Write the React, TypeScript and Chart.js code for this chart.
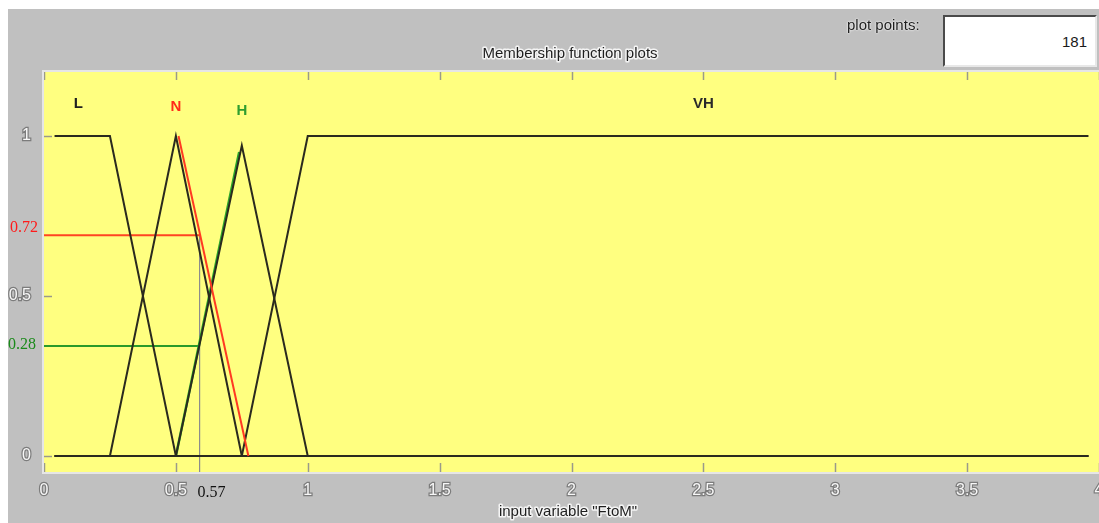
import React, { useEffect, useRef } from "react";
import { Chart, registerables } from "chart.js";

Chart.register(...registerables);

// ---- data ----
const xTicks = [0, 0.5, 1, 1.5, 2, 2.5, 3, 3.5, 4];
const yTicks = [0, 0.5, 1];

const mfNames = ["L", "N", "H", "VH"];
const mfLabelX = [0.13, 0.5, 0.75, 2.5];
const mfLabelY = [1.1, 1.09, 1.08, 1.1];
const mfLabelColors = ["#202020", "#ff2a1a", "#2f9e2f", "#2a2a2a"];

const L_X = [0.04, 0.25, 0.5, 3.96];
const L_Y = [1, 1, 0, 0];
const N_X = [0.04, 0.25, 0.5, 0.75, 3.96];
const N_Y = [0, 0, 1, 0, 0];
const H_X = [0.04, 0.5, 0.75, 1, 3.96];
const H_Y = [0, 0, 0.97, 0, 0];
const VH_X = [0.04, 0.75, 1, 3.96];
const VH_Y = [0, 0, 1, 1];

// highlighted slopes
const redSlopeX = [0.51, 0.775];
const redSlopeY = [1, 0];
const greenSlopeX = [0.5, 0.74];
const greenSlopeY = [0, 0.95];

// cut lines (as drawn) and their printed labels
const cutX = 0.59;
const redCutY = 0.69;
const greenCutY = 0.344;
const redCutLabel = "0.72";
const greenCutLabel = "0.28";
const inputLabel = "0.57";

const titleText = "Membership function plots";
const xAxisTitle = 'input variable "FtoM"';
const plotPointsLabel = "plot points:";
const plotPointsValue = "181";

const SANS = '"Liberation Sans", Arial, sans-serif';
const SERIF = '"Liberation Serif", "Times New Roman", serif';

const pts = (xs: number[], ys: number[]) => xs.map((x, i) => ({ x, y: ys[i] }));

function haloText(
  ctx: CanvasRenderingContext2D,
  text: string,
  x: number,
  y: number,
  fill: string,
  stroke: string | null,
  strokeWidth: number,
  font: string,
  align: CanvasTextAlign = "center"
) {
  ctx.save();
  ctx.font = font;
  ctx.textAlign = align;
  ctx.textBaseline = "middle";
  if (stroke) {
    ctx.strokeStyle = stroke;
    ctx.lineWidth = strokeWidth;
    ctx.lineJoin = "round";
    ctx.strokeText(text, x, y);
  }
  ctx.fillStyle = fill;
  ctx.fillText(text, x, y);
  ctx.restore();
}

const fuzzyPlugin = {
  id: "fuzzyDecor",
  beforeDraw(chart: any) {
    const { ctx, chartArea: a } = chart;
    ctx.save();
    ctx.fillStyle = "#ffff80";
    ctx.fillRect(a.left, a.top, a.right - a.left + 2, a.bottom - a.top);
    ctx.restore();
  },
  afterDatasetsDraw(chart: any) {
    const { ctx, chartArea: a } = chart;
    const xs = chart.scales.x;
    const ys = chart.scales.y;

    // inward tick marks
    ctx.save();
    ctx.strokeStyle = "#9a9a8a";
    ctx.lineWidth = 1.5;
    ctx.beginPath();
    xTicks.forEach((v) => {
      const px = Math.round(xs.getPixelForValue(v)) + 0.5;
      ctx.moveTo(px, a.bottom);
      ctx.lineTo(px, a.bottom - 9);
      ctx.moveTo(px, a.top);
      ctx.lineTo(px, a.top + 8);
    });
    yTicks.forEach((v) => {
      const py = Math.round(ys.getPixelForValue(v)) + 0.5;
      ctx.moveTo(a.left, py);
      ctx.lineTo(a.left + 8, py);
    });
    ctx.stroke();

    // axes box
    ctx.strokeStyle = "#e6e6e6";
    ctx.lineWidth = 2;
    ctx.strokeRect(a.left - 1, a.top - 1, a.right - a.left + 6, a.bottom - a.top + 2);
    ctx.restore();

    // MF labels
    mfNames.forEach((n, i) => {
      haloText(
        ctx,
        n,
        xs.getPixelForValue(mfLabelX[i]),
        ys.getPixelForValue(mfLabelY[i]),
        mfLabelColors[i],
        null,
        0,
        `bold 15px ${SANS}`
      );
    });

    // cut labels
    haloText(ctx, redCutLabel, a.left - 6, ys.getPixelForValue(redCutY) - 7, "#ff1a1a", null, 0, `16px ${SERIF}`, "right");
    haloText(ctx, greenCutLabel, a.left - 8, ys.getPixelForValue(greenCutY) - 1, "#1a8a1a", null, 0, `16px ${SERIF}`, "right");
    haloText(ctx, inputLabel, xs.getPixelForValue(cutX) - 2, a.bottom + 21, "#111111", null, 0, `16px ${SERIF}`, "left");

    // titles
    haloText(ctx, titleText, 562, 45, "#1e1e1e", "#f4f4f4", 3, `15px ${SANS}`);
    haloText(ctx, xAxisTitle, 560, 503, "#1e1e1e", "#f4f4f4", 3, `15px ${SANS}`);
  },
};

export default function App() {
  const ref = useRef<HTMLCanvasElement | null>(null);

  useEffect(() => {
    if (!ref.current) return;
    const black = "#2a2a1e";
    const line = (data: any[], color: string, width: number, order: number) => ({
      data,
      showLine: true,
      borderColor: color,
      backgroundColor: color,
      borderWidth: width,
      pointRadius: 0,
      fill: false,
      tension: 0,
      order,
    });

    const chart = new Chart(ref.current, {
      type: "scatter",
      data: {
        datasets: [
          line(pts(redSlopeX, redSlopeY), "#ff3a22", 2, 0),
          line(pts(L_X, L_Y), black, 2, 1),
          line(pts(N_X, N_Y), black, 2, 1),
          line(pts(H_X, H_Y), black, 2, 1),
          line(pts(VH_X, VH_Y), black, 2, 1),
          line(pts(greenSlopeX, greenSlopeY), "#2aa52a", 2.5, 2),
          line([{ x: 0, y: redCutY }, { x: cutX, y: redCutY }], "#ff4422", 2, 3),
          line([{ x: 0, y: greenCutY }, { x: cutX, y: greenCutY }], "#2a9a2a", 2, 3),
          line([{ x: cutX, y: redCutY }, { x: cutX, y: -0.05 }], "#8c8c8c", 1.2, 3),
        ],
      },
      options: {
        animation: false,
        responsive: false,
        events: [],
        layout: { padding: { top: 63, left: 0, right: 0, bottom: 0 }, autoPadding: false } as any,
        plugins: {
          legend: { display: false },
          tooltip: { enabled: false },
          title: { display: false },
        },
        scales: {
          x: {
            type: "linear",
            min: 0,
            max: 4,
            afterBuildTicks: (s: any) => {
              s.ticks = xTicks.map((v) => ({ value: v }));
            },
            afterFit: (s: any) => {
              s.height = 51;
              s.paddingLeft = 0;
              s.paddingRight = 0;
            },
            grid: { display: false },
            border: { display: false },
            ticks: {
              color: "#f8f8f8",
              textStrokeColor: "#7c7c7c",
              textStrokeWidth: 2.5,
              font: { family: SANS, size: 16 },
              padding: 1,
              maxRotation: 0,
              autoSkip: false,
              callback: (v: any) => String(v),
            },
          },
          y: {
            type: "linear",
            min: -0.05,
            max: 1.2,
            afterBuildTicks: (s: any) => {
              s.ticks = yTicks.map((v) => ({ value: v }));
            },
            afterFit: (s: any) => {
              s.width = 36;
              s.paddingTop = 0;
              s.paddingBottom = 0;
            },
            grid: { display: false },
            border: { display: false },
            ticks: {
              color: "#f8f8f8",
              textStrokeColor: "#7c7c7c",
              textStrokeWidth: 2.5,
              font: { family: SANS, size: 16 },
              padding: 5,
              autoSkip: false,
              callback: (v: any) => String(v),
            },
          },
        },
      },
      plugins: [fuzzyPlugin],
    } as any);

    return () => chart.destroy();
  }, []);

  return (
    <div
      style={{
        position: "fixed",
        left: 8,
        top: 9,
        width: 1091,
        height: 514,
        background: "#c0c0c0",
        overflow: "hidden",
      }}
    >
      <canvas ref={ref} width={1091} height={514} style={{ position: "absolute", left: 0, top: 0 }} />
      <div
        style={{
          position: "absolute",
          left: 839,
          top: 7,
          width: 80,
          font: `15px ${SANS}`,
          lineHeight: "18px",
          color: "#1e1e1e",
          textShadow: "0 0 2px #f4f4f4, 0 0 2px #f4f4f4",
          whiteSpace: "nowrap",
        }}
      >
        {plotPointsLabel}
      </div>
      <div
        style={{
          position: "absolute",
          left: 935,
          top: 6,
          width: 154,
          height: 52,
          boxSizing: "border-box",
          background: "#ffffff",
          borderTop: "2px solid #4a4a4a",
          borderLeft: "2px solid #4a4a4a",
          borderRight: "2px solid #e8e8e8",
          borderBottom: "2px solid #e8e8e8",
          font: `15px ${SANS}`,
          color: "#1a1a1a",
          display: "flex",
          alignItems: "center",
          justifyContent: "flex-end",
          paddingRight: 8,
        }}
      >
        {plotPointsValue}
      </div>
    </div>
  );
}
